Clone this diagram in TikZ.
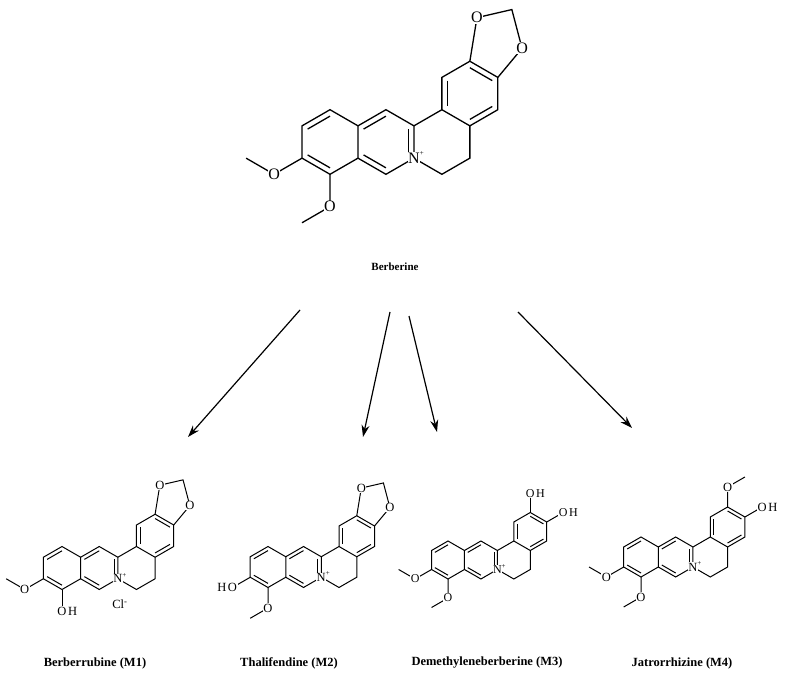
\documentclass[tikz,border=0pt]{standalone}
\usepackage{fontspec}
\setmainfont{Liberation Serif}
\usetikzlibrary{calc,arrows.meta}
\tikzset{
  atom/.style={fill=white,inner sep=0.5pt},
  hyd/.style={inner sep=0pt},
  rxn/.style={line width=1.2pt,-{Stealth[length=12pt,width=8pt]}},
  captext/.style={font=\fontsize{12.5}{14}\selectfont\bfseries},
}
\newcommand\inner[3]{\draw ($(#1)!0.8!(#2)$) -- ($(#1)!0.8!(#3)$);}
\newcommand\skel{%
  \coordinate (A) at (0,0); \coordinate (B) at (1.732,0); \coordinate (D) at (4.330,1.5);
  \coordinate (a1) at (0,1); \coordinate (a2) at (0.866,0.5); \coordinate (a3) at (0.866,-0.5);
  \coordinate (a4) at (0,-1); \coordinate (a5) at (-0.866,-0.5); \coordinate (a6) at (-0.866,0.5);
  \coordinate (b1) at (1.732,1); \coordinate (b2) at (2.598,0.5); \coordinate (b3) at (2.598,-0.5); \coordinate (b4) at (1.732,-1);
  \coordinate (c1) at (3.464,1); \coordinate (c2) at (4.330,0.5); \coordinate (c3) at (4.330,-0.5); \coordinate (c4) at (3.464,-1);
  \coordinate (d1) at (4.330,2.5); \coordinate (d2) at (5.196,2); \coordinate (d3) at (5.196,1); \coordinate (d6) at (3.464,2);
  \draw (a1)--(a2)--(a3)--(a4)--(a5)--(a6)--cycle;
  \draw (a2)--(b1)--(b2)--(b3)--(b4)--(a3);
  \draw (b2)--(c1)--(c2)--(c3)--(c4)--(b3);
  \draw (c1)--(d6)--(d1)--(d2)--(d3)--(c2);
  \inner{A}{a1}{a6} \inner{A}{a5}{a4}
  \inner{B}{a2}{b1} \inner{B}{b4}{a3} \inner{B}{b2}{b3}
  \inner{D}{d6}{c1} \inner{D}{d1}{d2} \inner{D}{d3}{c2}
}
\newcommand\Nplus{%
  \node[atom] (nn) at (b3) {N};
  \node[hyd,anchor=south west,font=\scriptsize] (pl) at ([xshift=-1.5pt,yshift=-4pt]nn.north east) {+};
}
\newcommand\dioxole{%
  \coordinate (o1) at (4.55,3.85); \coordinate (ch) at (5.63,4.1); \coordinate (o2) at (5.946,2.9);
  \draw (d1)--(o1)--(ch)--(o2)--(d2);
  \node[atom] (O1) at (o1) {O}; \node[atom] (O2) at (o2) {O};
}
\newcommand\omeA{%
  \coordinate (o5) at (-1.732,-1); \coordinate (m5) at (-2.598,-0.5);
  \draw (a5)--(o5)--(m5); \node[atom] (O5) at (o5) {O};
}
\newcommand\omeB{%
  \coordinate (o4) at (0,-2); \coordinate (m4) at (-0.866,-2.5);
  \draw (a4)--(o4)--(m4); \node[atom] (O4) at (o4) {O};
}
\begin{document}
\begin{tikzpicture}[x=1pt,y=-1pt]
\useasboundingbox (0,0) rectangle (788,679);
% Berberine
\begin{scope}[shift={(330,142)},x=32.3pt,y=32.3pt,line width=1.3pt,
  every node/.append style={font=\fontsize{16}{16}\selectfont}]
  \skel \dioxole \omeA \omeB \Nplus
\end{scope}
\node[font=\fontsize{11}{13}\selectfont\bfseries] (tberb) at (395,267) {Berberine};
% M1
\begin{scope}[shift={(62,568)},x=21.5pt,y=21.5pt,line width=1pt,
  every node/.append style={font=\fontsize{12.5}{13}\selectfont}]
  \skel \dioxole \omeA
  \coordinate (o4) at (0,-2); \draw (a4)--(o4);
  \node[atom] (O4) at (o4) {O}; \node[hyd,anchor=west] (H4) at (O4.east) {H};
  \Nplus
  \node (cl) at ($(b3)+(0.1,-1.2)$) {Cl\textsuperscript{-}};
\end{scope}
% M2
\begin{scope}[shift={(268,567)},x=20.5pt,y=20.5pt,line width=1pt,
  every node/.append style={font=\fontsize{12.5}{13}\selectfont}]
  \skel \dioxole \omeB
  \coordinate (o5) at (-1.732,-1); \draw (a5)--(o5);
  \node[atom] (O5) at (o5) {O}; \node[hyd,anchor=east] (H5) at (O5.west) {H};
  \Nplus
\end{scope}
% M3
\begin{scope}[shift={(448,560)},x=19pt,y=19pt,line width=1pt,
  every node/.append style={font=\fontsize{12}{13}\selectfont}]
  \skel \omeA \omeB
  \coordinate (p1) at (4.330,3.5); \coordinate (p2) at (6.062,2.5);
  \draw (d1)--(p1); \draw (d2)--(p2);
  \node[atom] (P1) at (p1) {O}; \node[hyd,anchor=west] (Q1) at (P1.east) {H};
  \node[atom] (P2) at (p2) {O}; \node[hyd,anchor=west] (Q2) at (P2.east) {H};
  \Nplus
\end{scope}
% M4
\begin{scope}[shift={(641,557)},x=20pt,y=20pt,line width=1pt,
  every node/.append style={font=\fontsize{12.5}{13}\selectfont}]
  \skel \omeA \omeB
  \coordinate (p1) at (4.330,3.5); \coordinate (q1) at (5.196,4); \coordinate (p2) at (6.062,2.5);
  \draw (d1)--(p1)--(q1); \draw (d2)--(p2);
  \node[atom] (P1) at (p1) {O};
  \node[atom] (P2) at (p2) {O}; \node[hyd,anchor=west] (Q2) at (P2.east) {H};
  \Nplus
\end{scope}
% captions
\node[captext] (t1) at (95,663) {Berberrubine (M1)};
\node[captext] (t2) at (289,663) {Thalifendine (M2)};
\node[captext] (t3) at (487,663) {Demethyleneberberine (M3)};
\node[captext] (t4) at (682,663) {Jatrorrhizine (M4)};
% arrows
\coordinate (s1) at (300,310); \coordinate (e1) at (188,437);
\coordinate (s2) at (390,312); \coordinate (e2) at (363,437);
\coordinate (s3) at (409,316); \coordinate (e3) at (437,432);
\coordinate (s4) at (518,312); \coordinate (e4) at (632,428);
\draw[rxn] (s1)--(e1); \draw[rxn] (s2)--(e2); \draw[rxn] (s3)--(e3); \draw[rxn] (s4)--(e4);
\end{tikzpicture}
\end{document}
